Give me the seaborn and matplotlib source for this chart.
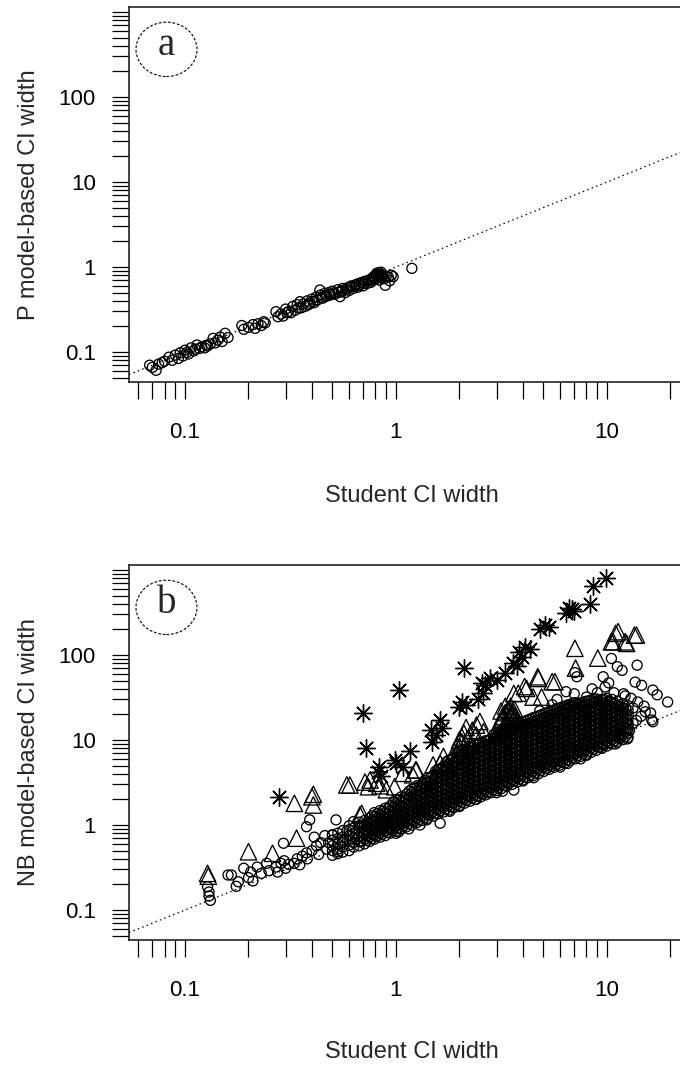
import warnings
import matplotlib
matplotlib.use("Agg")
import matplotlib.pyplot as plt
from matplotlib.patches import Ellipse
from matplotlib.ticker import NullLocator
import seaborn as sns

warnings.filterwarnings("ignore")

# ---- panel a: P model-based vs Student CI width
a_student = [0.068, 0.070, 0.073, 0.075, 0.078, 0.080, 0.084, 0.087, 0.090, 0.093, 0.095, 0.098,
             0.100, 0.102, 0.104, 0.107, 0.110, 0.112, 0.114, 0.117, 0.120, 0.124, 0.126, 0.128,
             0.132, 0.136, 0.139, 0.143, 0.147, 0.150, 0.155, 0.160, 0.186, 0.190, 0.200, 0.210,
             0.215, 0.222, 0.230, 0.236, 0.240, 0.270, 0.276, 0.285, 0.292, 0.300, 0.305, 0.310,
             0.318, 0.325, 0.333, 0.340, 0.345, 0.351, 0.355, 0.365, 0.372, 0.380, 0.385, 0.390,
             0.400, 0.405, 0.410, 0.420, 0.425, 0.436, 0.440, 0.445, 0.450, 0.460, 0.465, 0.470,
             0.480, 0.485, 0.490, 0.500, 0.505, 0.515, 0.530, 0.535, 0.543, 0.550, 0.555, 0.560,
             0.575, 0.580, 0.590, 0.600, 0.605, 0.615, 0.630, 0.640, 0.645, 0.660, 0.665, 0.675,
             0.690, 0.700, 0.705, 0.715, 0.730, 0.740, 0.745, 0.760, 0.765, 0.770, 0.780, 0.785,
             0.790, 0.800, 0.805, 0.810, 0.815, 0.820, 0.825, 0.830, 0.835, 0.840, 0.845, 0.850,
             0.855, 0.860, 0.865, 0.880, 0.890, 0.900, 0.920, 0.935, 0.950, 0.970, 1.190]
a_model = [0.070, 0.066, 0.061, 0.072, 0.075, 0.078, 0.087, 0.080, 0.092, 0.084, 0.098, 0.090,
           0.105, 0.099, 0.095, 0.112, 0.103, 0.108, 0.121, 0.110, 0.115, 0.112, 0.120, 0.118,
           0.125, 0.145, 0.128, 0.138, 0.150, 0.133, 0.166, 0.148, 0.205, 0.185, 0.195, 0.210,
           0.190, 0.215, 0.205, 0.227, 0.220, 0.298, 0.260, 0.280, 0.265, 0.320, 0.290, 0.300,
           0.290, 0.345, 0.310, 0.360, 0.330, 0.391, 0.330, 0.370, 0.345, 0.400, 0.360, 0.375,
           0.420, 0.395, 0.380, 0.445, 0.410, 0.536, 0.470, 0.440, 0.430, 0.490, 0.465, 0.455,
           0.500, 0.475, 0.470, 0.520, 0.495, 0.480, 0.540, 0.505, 0.448, 0.510, 0.530, 0.560,
           0.500, 0.545, 0.570, 0.530, 0.580, 0.600, 0.560, 0.600, 0.620, 0.580, 0.640, 0.614,
           0.660, 0.600, 0.640, 0.680, 0.640, 0.690, 0.700, 0.660, 0.720, 0.740, 0.700, 0.760,
           0.780, 0.720, 0.800, 0.843, 0.760, 0.820, 0.800, 0.860, 0.700, 0.780, 0.820, 0.870,
           0.750, 0.800, 0.790, 0.730, 0.610, 0.780, 0.760, 0.690, 0.800, 0.770, 0.965]

# ---- panel b: NB model-based vs Student CI width
# dense band of circles, one column of y readings per Student CI width
b_band_x = [0.50, 0.53, 0.56, 0.60, 0.63, 0.67, 0.71, 0.75, 0.79, 0.84, 0.89, 0.94, 1.00, 1.06,
            1.12, 1.19, 1.26, 1.33, 1.41, 1.50, 1.58, 1.68, 1.78, 1.88, 2.00, 2.11, 2.24, 2.37,
            2.51, 2.66, 2.82, 2.99, 3.16, 3.35, 3.55, 3.76, 3.98, 4.22, 4.47, 4.73, 5.01, 5.31,
            5.62, 5.96, 6.31, 6.68, 7.08, 7.50, 7.94, 8.41, 8.91, 9.44, 10.0, 10.6, 11.2, 11.9,
            12.6]
b_band_y = [
    [0.44, 0.50, 0.57, 0.66, 0.76],
    [0.46, 0.52, 0.60, 0.69, 0.80],
    [0.48, 0.55, 0.62, 0.72, 0.86],
    [0.50, 0.58, 0.66, 0.75, 0.88, 0.98],
    [0.55, 0.62, 0.70, 0.80, 0.92],
    [0.57, 0.64, 0.73, 0.84, 0.95, 1.08],
    [0.60, 0.68, 0.78, 0.88, 1.00, 1.13],
    [0.64, 0.72, 0.82, 0.93, 1.05, 1.20],
    [0.68, 0.76, 0.86, 0.98, 1.10, 1.25, 1.40],
    [0.72, 0.80, 0.91, 1.03, 1.17, 1.32, 1.48],
    [0.75, 0.85, 0.96, 1.09, 1.23, 1.40, 1.58],
    [0.80, 0.90, 1.02, 1.15, 1.30, 1.48, 1.68],
    [0.85, 0.96, 1.08, 1.22, 1.38, 1.56, 1.78, 2.00],
    [0.90, 1.02, 1.15, 1.30, 1.47, 1.66, 1.90, 2.15],
    [0.95, 1.08, 1.22, 1.38, 1.56, 1.77, 2.00, 2.30],
    [1.00, 1.14, 1.29, 1.46, 1.65, 1.87, 2.12, 2.40, 2.65],
    [1.07, 1.21, 1.37, 1.55, 1.75, 1.98, 2.25, 2.55, 2.90],
    [1.13, 1.28, 1.45, 1.64, 1.85, 2.10, 2.38, 2.70, 3.05],
    [1.20, 1.36, 1.54, 1.74, 1.97, 2.23, 2.52, 2.85, 3.20, 3.60],
    [1.27, 1.44, 1.63, 1.84, 2.08, 2.36, 2.67, 3.00, 3.40, 3.85],
    [1.35, 1.52, 1.72, 1.95, 2.20, 2.50, 2.83, 3.20, 3.60, 4.10, 4.50],
    [1.42, 1.61, 1.82, 2.06, 2.33, 2.64, 3.00, 3.38, 3.82, 4.30, 4.90],
    [1.50, 1.70, 1.93, 2.18, 2.47, 2.80, 3.17, 3.58, 4.05, 4.60, 5.20, 5.80],
    [1.60, 1.81, 2.05, 2.32, 2.62, 2.96, 3.35, 3.80, 4.30, 4.85, 5.50, 6.20],
    [1.70, 1.92, 2.17, 2.46, 2.78, 3.15, 3.55, 4.00, 4.55, 5.15, 5.80, 6.60, 7.40],
    [1.80, 2.03, 2.30, 2.60, 2.94, 3.32, 3.76, 4.25, 4.80, 5.45, 6.15, 6.95, 7.80],
    [1.90, 2.15, 2.43, 2.75, 3.10, 3.50, 3.97, 4.50, 5.10, 5.75, 6.50, 7.35, 8.30],
    [2.00, 2.27, 2.57, 2.90, 3.28, 3.72, 4.20, 4.75, 5.40, 6.10, 6.90, 7.80, 8.80],
    [2.13, 2.40, 2.72, 3.08, 3.48, 3.93, 4.45, 5.03, 5.70, 6.45, 7.30, 8.25, 9.30],
    [2.26, 2.55, 2.88, 3.26, 3.68, 4.17, 4.71, 5.33, 6.03, 6.82, 7.70, 8.70, 9.80],
    [2.40, 2.70, 3.05, 3.45, 3.90, 4.41, 5.00, 5.65, 6.38, 7.20, 8.15, 9.20, 10.4],
    [2.54, 2.87, 3.24, 3.66, 4.14, 4.68, 5.30, 6.00, 6.78, 7.65, 8.65, 9.80, 11.0, 12.2],
    [2.68, 3.03, 3.43, 3.87, 4.38, 4.95, 5.60, 6.33, 7.15, 8.10, 9.15, 10.3, 11.6, 12.8],
    [2.85, 3.22, 3.64, 4.11, 4.65, 5.25, 5.94, 6.70, 7.60, 8.60, 9.70, 10.9, 12.3, 13.6],
    [3.00, 3.40, 3.85, 4.35, 4.92, 5.56, 6.28, 7.10, 8.03, 9.08, 10.25, 11.6, 13.1, 14.5],
    [3.20, 3.62, 4.09, 4.62, 5.22, 5.90, 6.67, 7.54, 8.52, 9.63, 10.9, 12.3, 13.9, 15.3],
    [3.38, 3.82, 4.32, 4.88, 5.52, 6.24, 7.05, 7.97, 9.00, 10.2, 11.5, 13.0, 14.7, 16.2],
    [3.60, 4.06, 4.59, 5.19, 5.86, 6.63, 7.49, 8.46, 9.56, 10.8, 12.2, 13.8, 15.6, 17.2],
    [3.80, 4.30, 4.86, 5.49, 6.20, 7.01, 7.92, 8.95, 10.1, 11.4, 12.9, 14.6, 16.5, 18.3],
    [4.00, 4.53, 5.12, 5.78, 6.54, 7.39, 8.35, 9.43, 10.7, 12.1, 13.6, 15.4, 17.4, 19.2],
    [4.26, 4.81, 5.44, 6.15, 6.95, 7.85, 8.87, 10.0, 11.3, 12.8, 14.5, 16.4, 18.5, 20.3],
    [4.50, 5.10, 5.76, 6.51, 7.36, 8.31, 9.40, 10.6, 12.0, 13.6, 15.3, 17.3, 19.6, 21.5],
    [4.78, 5.40, 6.10, 6.90, 7.80, 8.80, 9.95, 11.2, 12.7, 14.4, 16.2, 18.3, 20.7, 22.6],
    [5.06, 5.72, 6.46, 7.30, 8.25, 9.33, 10.5, 11.9, 13.4, 15.2, 17.2, 19.4, 21.9, 23.8],
    [5.36, 6.06, 6.85, 7.74, 8.74, 9.88, 11.2, 12.6, 14.3, 16.1, 18.2, 20.6, 23.2, 25.0],
    [5.68, 6.42, 7.25, 8.20, 9.26, 10.5, 11.8, 13.4, 15.1, 17.1, 19.3, 21.8, 24.6, 26.2],
    [6.00, 6.80, 7.70, 8.70, 9.80, 11.1, 12.5, 14.2, 16.0, 18.1, 20.4, 23.1, 26.0, 27.5],
    [6.40, 7.20, 8.15, 9.20, 10.4, 11.8, 13.3, 15.0, 17.0, 19.2, 21.7, 24.5, 27.3],
    [6.75, 7.63, 8.62, 9.74, 11.0, 12.4, 14.1, 15.9, 18.0, 20.3, 22.9, 25.9, 28.5],
    [7.15, 8.08, 9.13, 10.3, 11.7, 13.2, 14.9, 16.8, 19.0, 21.5, 24.3, 27.0, 29.5],
    [7.57, 8.56, 9.67, 10.9, 12.3, 13.9, 15.8, 17.8, 20.1, 22.7, 25.7, 28.5, 30.5],
    [8.00, 9.05, 10.2, 11.6, 13.1, 14.8, 16.7, 18.9, 21.3, 24.1, 27.0, 30.0],
    [8.50, 9.60, 10.85, 12.3, 13.9, 15.7, 17.7, 20.0, 22.6, 25.5, 28.5, 31.0],
    [9.00, 10.2, 11.5, 13.0, 14.7, 16.6, 18.8, 21.2, 24.0, 27.0, 30.0],
    [9.50, 10.8, 12.2, 13.8, 15.6, 17.6, 19.9, 22.5, 25.4, 28.5],
    [10.1, 11.4, 12.9, 14.6, 16.5, 18.6, 21.0, 23.8, 26.8],
    [10.7, 12.1, 13.7, 15.5, 17.5, 19.8, 22.4, 25.3],
]

# second pass of band readings, taken between the columns above
b_fill_x = [0.73, 0.77, 0.815, 0.865, 0.915, 0.97, 1.03, 1.09, 1.155, 1.225, 1.295, 1.37,
            1.455, 1.54, 1.63, 1.73, 1.83, 1.94, 2.055, 2.175, 2.305, 2.44, 2.585, 2.74, 2.905,
            3.075, 3.255, 3.45, 3.655, 3.87, 4.1, 4.345, 4.6, 4.87, 5.16, 5.465, 5.79, 6.135,
            6.495, 6.88, 7.29, 7.72, 8.175, 8.66, 9.175, 9.72, 10.3, 10.9, 11.55, 12.25]
b_fill_y = [
    [0.66, 0.74, 0.84, 0.95, 1.08],
    [0.69, 0.78, 0.88, 0.99, 1.13, 1.28],
    [0.74, 0.83, 0.94, 1.06, 1.20, 1.36],
    [0.78, 0.88, 1.00, 1.13, 1.28, 1.45],
    [0.82, 0.93, 1.05, 1.19, 1.35, 1.55],
    [0.87, 0.99, 1.12, 1.26, 1.43, 1.64, 1.85],
    [0.92, 1.04, 1.18, 1.34, 1.52, 1.74, 1.98],
    [0.98, 1.10, 1.25, 1.42, 1.61, 1.84, 2.10],
    [1.04, 1.17, 1.33, 1.50, 1.70, 1.94, 2.22, 2.50],
    [1.10, 1.24, 1.41, 1.60, 1.81, 2.06, 2.35, 2.70],
    [1.16, 1.32, 1.49, 1.69, 1.92, 2.18, 2.50, 2.85],
    [1.23, 1.40, 1.58, 1.80, 2.04, 2.32, 2.66, 3.00, 3.35],
    [1.31, 1.48, 1.68, 1.91, 2.17, 2.47, 2.82, 3.20, 3.60],
    [1.38, 1.57, 1.78, 2.02, 2.30, 2.62, 2.98, 3.40, 3.85, 4.30],
    [1.47, 1.66, 1.89, 2.14, 2.44, 2.78, 3.17, 3.60, 4.05, 4.60],
    [1.55, 1.76, 2.00, 2.27, 2.58, 2.94, 3.35, 3.82, 4.32, 4.90, 5.50],
    [1.65, 1.87, 2.12, 2.40, 2.73, 3.10, 3.55, 4.02, 4.55, 5.15, 5.85],
    [1.75, 1.98, 2.24, 2.55, 2.90, 3.30, 3.75, 4.25, 4.82, 5.45, 6.20, 7.00],
    [1.85, 2.10, 2.38, 2.70, 3.07, 3.50, 3.97, 4.50, 5.10, 5.80, 6.55, 7.40],
    [1.96, 2.22, 2.52, 2.86, 3.25, 3.70, 4.20, 4.77, 5.40, 6.10, 6.90, 7.85],
    [2.07, 2.35, 2.67, 3.03, 3.45, 3.92, 4.45, 5.05, 5.72, 6.48, 7.35, 8.30],
    [2.20, 2.50, 2.83, 3.22, 3.66, 4.15, 4.72, 5.35, 6.06, 6.86, 7.78, 8.80],
    [2.33, 2.64, 3.00, 3.40, 3.86, 4.39, 4.98, 5.66, 6.42, 7.28, 8.25, 9.35],
    [2.47, 2.80, 3.18, 3.60, 4.10, 4.65, 5.28, 6.00, 6.80, 7.70, 8.75, 9.90],
    [2.62, 2.97, 3.37, 3.82, 4.34, 4.93, 5.60, 6.36, 7.20, 8.17, 9.25, 10.5, 11.6],
    [2.77, 3.14, 3.56, 4.04, 4.59, 5.22, 5.93, 6.73, 7.63, 8.65, 9.80, 11.1, 12.4],
    [2.93, 3.33, 3.78, 4.29, 4.87, 5.53, 6.28, 7.13, 8.08, 9.16, 10.4, 11.8, 13.1],
    [3.10, 3.52, 4.00, 4.54, 5.16, 5.86, 6.65, 7.55, 8.56, 9.70, 11.0, 12.5, 13.9],
    [3.30, 3.74, 4.24, 4.81, 5.46, 6.20, 7.04, 8.00, 9.07, 10.3, 11.7, 13.2, 14.8],
    [3.48, 3.95, 4.48, 5.09, 5.78, 6.57, 7.46, 8.47, 9.60, 10.9, 12.4, 14.0, 15.7],
    [3.70, 4.20, 4.76, 5.40, 6.13, 6.96, 7.90, 8.97, 10.2, 11.6, 13.1, 14.9, 16.7],
    [3.90, 4.43, 5.03, 5.71, 6.48, 7.36, 8.36, 9.50, 10.8, 12.2, 13.9, 15.7, 17.7],
    [4.14, 4.70, 5.33, 6.05, 6.87, 7.80, 8.86, 10.1, 11.4, 13.0, 14.7, 16.7, 18.7],
    [4.38, 4.97, 5.64, 6.40, 7.27, 8.26, 9.38, 10.6, 12.1, 13.7, 15.6, 17.7, 19.7],
    [4.64, 5.27, 5.98, 6.79, 7.70, 8.75, 9.93, 11.3, 12.8, 14.5, 16.5, 18.7, 20.9],
    [4.92, 5.58, 6.34, 7.20, 8.17, 9.27, 10.5, 11.9, 13.5, 15.4, 17.5, 19.8, 22.0],
    [5.20, 5.90, 6.70, 7.62, 8.65, 9.82, 11.1, 12.6, 14.3, 16.3, 18.5, 21.0, 23.2],
    [5.52, 6.27, 7.12, 8.08, 9.17, 10.4, 11.8, 13.4, 15.2, 17.3, 19.6, 22.3, 24.4],
    [5.85, 6.64, 7.54, 8.56, 9.72, 11.0, 12.5, 14.2, 16.1, 18.3, 20.8, 23.6, 25.8],
    [6.20, 7.03, 7.98, 9.06, 10.3, 11.7, 13.3, 15.1, 17.1, 19.4, 22.0, 25.0, 27.0],
    [6.56, 7.45, 8.46, 9.60, 10.9, 12.4, 14.1, 16.0, 18.1, 20.6, 23.3, 26.4],
    [6.95, 7.89, 8.96, 10.2, 11.6, 13.1, 14.9, 16.9, 19.2, 21.8, 24.7, 27.8],
    [7.36, 8.36, 9.49, 10.8, 12.2, 13.9, 15.8, 17.9, 20.3, 23.0, 26.1, 28.9],
    [7.80, 8.85, 10.0, 11.4, 12.9, 14.7, 16.7, 18.9, 21.5, 24.4, 27.6, 30.0],
    [8.26, 9.38, 10.6, 12.1, 13.7, 15.6, 17.7, 20.0, 22.7, 25.8, 28.8],
    [8.75, 9.93, 11.3, 12.8, 14.5, 16.5, 18.7, 21.2, 24.1, 27.2, 30.0],
    [9.27, 10.5, 11.9, 13.5, 15.4, 17.5, 19.8, 22.5, 25.5, 28.5],
    [9.80, 11.1, 12.6, 14.3, 16.3, 18.5, 21.0, 23.8, 26.8],
    [10.4, 11.8, 13.4, 15.2, 17.2, 19.5, 22.2, 25.0],
    [11.0, 12.5, 14.2, 16.1, 18.3, 20.7, 23.5],
]

# scattered circles outside the band
b_circ_x = [0.128, 0.130, 0.130, 0.132, 0.160, 0.166, 0.175, 0.179, 0.190, 0.200, 0.205, 0.210,
            0.220, 0.230, 0.244, 0.250, 0.270, 0.275, 0.285, 0.295, 0.300, 0.293, 0.310, 0.330,
            0.340, 0.350, 0.360, 0.377, 0.390, 0.410, 0.377, 0.380, 0.400, 0.420, 0.430, 0.440,
            0.460, 0.470, 0.480, 0.500, 0.520, 0.530, 0.560, 0.585, 0.630, 0.650, 0.680, 0.680,
            0.720, 0.740, 0.790, 0.840, 0.900, 0.950, 1.030, 1.000, 1.620, 1.400, 2.000, 2.700,
            3.620, 3.200, 4.500, 5.200, 6.500, 7.500, 9.450, 9.300, 10.50, 11.20, 13.90, 9.600,
            7.200, 7.050, 14.60, 16.50, 17.30, 19.40, 16.10, 16.50, 13.30, 15.20, 16.30, 13.30,
            6.400, 8.000, 7.000, 8.500, 9.000, 12.00, 13.00, 14.00, 15.00, 14.50, 13.80, 12.80,
            11.50, 12.20, 10.80, 9.800, 5.500, 4.800, 5.800, 3.800, 11.80, 13.60, 10.20, 1.150,
            1.300, 1.800, 2.400, 3.000, 4.000, 6.000, 8.000, 11.00, 12.50]
b_circ_y = [0.188, 0.163, 0.146, 0.130, 0.258, 0.258, 0.190, 0.215, 0.310, 0.240, 0.280, 0.220,
            0.320, 0.270, 0.354, 0.290, 0.320, 0.280, 0.354, 0.380, 0.310, 0.610, 0.345, 0.354,
            0.400, 0.340, 0.430, 0.955, 1.150, 0.720, 0.470, 0.400, 0.500, 0.570, 0.450, 0.620,
            0.750, 0.520, 0.620, 0.770, 1.150, 0.485, 0.660, 0.850, 1.100, 0.690, 1.000, 0.636,
            0.850, 0.800, 1.100, 0.950, 1.200, 1.100, 0.830, 0.800, 1.050, 1.150, 1.650, 2.400,
            2.580, 2.500, 3.600, 4.650, 5.300, 6.000, 8.000, 8.300, 91.00, 73.00, 76.00, 55.50,
            55.50, 62.00, 44.00, 38.70, 34.00, 28.00, 20.80, 16.40, 23.80, 21.50, 17.20, 15.70,
            37.00, 32.00, 35.00, 40.00, 36.00, 35.00, 31.00, 28.00, 25.00, 19.00, 17.00, 13.00,
            11.00, 33.00, 36.00, 42.00, 26.00, 22.00, 30.00, 16.50, 66.00, 48.00, 47.00, 0.900,
            1.000, 1.450, 2.000, 2.400, 3.300, 4.800, 6.600, 9.000, 10.30]

b_tri_x = [0.128, 0.129, 0.200, 0.260, 0.338, 0.330, 0.400, 0.406, 0.406, 0.585, 0.605, 0.675,
           0.688, 0.713, 0.740, 0.753, 0.810, 0.840, 0.900, 0.985, 1.080, 1.200, 1.240, 1.250,
           1.340, 1.500, 1.620, 1.680, 1.750, 1.920, 1.950, 2.000, 2.010, 2.050, 2.050, 2.100,
           2.150, 2.200, 2.250, 2.300, 2.400, 2.410, 2.500, 2.600, 3.100, 3.130, 3.150, 3.200,
           3.200, 3.220, 3.250, 3.300, 3.300, 3.350, 3.400, 3.400, 3.450, 3.470, 3.500, 3.550,
           3.550, 3.600, 3.620, 3.650, 3.700, 3.800, 4.070, 4.160, 4.470, 4.700, 4.730, 4.900,
           5.500, 5.670, 7.050, 7.100, 9.050, 10.50, 10.70, 11.00, 11.30, 12.20, 12.40, 13.50,
           13.80]
b_tri_y = [0.270, 0.250, 0.485, 0.465, 0.700, 1.800, 2.150, 2.300, 1.720, 2.960, 2.950, 1.310,
           1.370, 3.200, 2.820, 3.380, 3.100, 2.900, 2.600, 2.820, 4.060, 3.900, 4.450, 4.440,
           3.100, 5.100, 5.300, 6.400, 5.000, 5.600, 8.400, 10.00, 8.300, 10.90, 9.500, 12.00,
           14.00, 10.50, 8.500, 13.00, 11.50, 15.00, 16.50, 12.50, 16.00, 12.00, 22.00, 17.70,
           19.00, 18.80, 14.50, 21.00, 25.00, 17.00, 23.00, 15.50, 19.50, 22.50, 25.00, 18.80,
           21.50, 17.50, 35.30, 23.00, 19.00, 35.50, 42.50, 40.50, 32.00, 55.50, 53.00, 32.00,
           48.50, 48.50, 120.0, 70.00, 92.00, 143.0, 143.0, 180.0, 188.0, 143.0, 137.0, 171.0,
           172.0]

b_star_x = [9.90, 8.60, 8.30, 6.60, 6.80, 6.40, 6.95, 5.10, 4.80, 5.30, 4.10, 4.30, 3.85, 3.60,
            3.75, 3.95, 3.30, 2.80, 3.00, 2.55, 2.65, 2.10, 2.05, 2.45, 2.15, 2.00, 2.60, 1.03,
            0.70, 0.72, 1.16, 0.99, 1.00, 0.83, 0.82, 0.85, 1.08, 1.48, 1.47, 1.65, 1.62, 1.55,
            0.28]
b_star_y = [800, 650, 395, 355, 345, 310, 330, 225, 205, 215, 125, 118, 108, 80, 74, 95, 62,
            53, 51, 47, 44, 70, 28, 30, 26, 24.5, 36, 39, 20.7, 8.0, 7.5, 5.8, 5.4, 4.8, 4.2,
            3.8, 4.8, 9.5, 13, 13.8, 17.2, 11.5, 2.15]

x_ticks = [0.06, 0.07, 0.08, 0.09, 0.1, 0.2, 0.3, 0.4, 0.5, 0.6, 0.7, 0.8, 0.9,
           1, 2, 3, 4, 5, 6, 7, 8, 9, 10, 20]
y_ticks = [0.05, 0.06, 0.07, 0.08, 0.09, 0.1, 0.2, 0.3, 0.4, 0.5, 0.6, 0.7, 0.8, 0.9,
           1, 2, 3, 4, 5, 6, 7, 8, 9, 10, 20, 30, 40, 50, 60, 70, 80, 90,
           100, 200, 300, 400, 500, 600, 700, 800, 900, 1000]
x_labelled = {0.1: "0.1", 1: "1", 10: "10"}
y_labelled = {0.1: "0.1", 1: "1", 10: "10", 100: "100"}

sns.set_style("ticks")
plt.rcParams["font.family"] = ["Liberation Sans", "DejaVu Sans"]

W, H = 680, 1065
fig = plt.figure(figsize=(W / 100, H / 100), dpi=100)

# expand band columns into flat point lists
band_x, band_y = [], []
for cols_x, cols_y in [(b_band_x, b_band_y), (b_fill_x, b_fill_y)]:
    for bx, ys in zip(cols_x, cols_y):
        band_x.extend([bx] * len(ys))
        band_y.extend(ys)


def style_axes(ax):
    ax.set_xscale("log")
    ax.set_yscale("log")
    ax.set_xlim(0.0543, 30)
    ax.set_ylim(0.0444, 1145)
    ax.set_xticks(x_ticks, [x_labelled.get(t, "") for t in x_ticks])
    ax.set_yticks(y_ticks, [y_labelled.get(t, "") for t in y_ticks])
    ax.xaxis.set_minor_locator(NullLocator())
    ax.yaxis.set_minor_locator(NullLocator())
    ax.tick_params(axis="both", direction="out", length=12, width=0.9,
                   color="black", labelsize=16, labelcolor="black")
    ax.tick_params(axis="x", pad=17)
    ax.tick_params(axis="y", pad=12)
    for side in ["left", "bottom", "top", "right"]:
        ax.spines[side].set_visible(True)
        ax.spines[side].set_linewidth(1.2)
        ax.spines[side].set_color("#222222")
    ax.set_xlabel("")
    ax.set_ylabel("")
    # 1:1 reference line
    ax.axline((1, 1), (10, 10), color="black", lw=0.9, linestyle=(0, (1.2, 2.6)), zorder=1)


def panel_tag(ax, letter):
    ax.add_patch(Ellipse((0.0648, 0.887), 0.1054, 0.145, transform=ax.transAxes,
                         fill=False, edgecolor="black", lw=0.8, linestyle=(0, (2.5, 1.6))))
    ax.text(0.0648, 0.872, letter, transform=ax.transAxes, ha="center", va="baseline",
            fontsize=28, family="Liberation Serif")


left = 129 / W
width = (707.6 - 129) / W
height = 375 / H

ax_a = fig.add_axes([left, 1 - 382 / H, width, height])
ax_b = fig.add_axes([left, 1 - 940 / H, width, height])

circle_kw = dict(marker="o", s=52, facecolors="none", edgecolor="black", linewidth=0.95)

sns.scatterplot(x=a_student, y=a_model, ax=ax_a, zorder=3, **circle_kw)

sns.scatterplot(x=band_x, y=band_y, ax=ax_b, zorder=3, **circle_kw)
sns.scatterplot(x=b_circ_x, y=b_circ_y, ax=ax_b, zorder=3, **circle_kw)
sns.scatterplot(x=b_tri_x, y=b_tri_y, ax=ax_b, zorder=3, marker="^", s=140,
                facecolors="none", edgecolor="black", linewidth=0.95)
sns.scatterplot(x=b_star_x, y=b_star_y, ax=ax_b, zorder=3, marker=(8, 2, 0), s=160,
                color="black", linewidth=1.0)

for ax, letter in [(ax_a, "a"), (ax_b, "b")]:
    style_axes(ax)
    panel_tag(ax, letter)

# axis titles
fig.text(411.6 / W, 1 - 502 / H, "Student CI width", ha="center", va="baseline", fontsize=17)
fig.text(411.6 / W, 1 - 1058 / H, "Student CI width", ha="center", va="baseline", fontsize=17)
fig.text(35 / W, 1 - 194.5 / H, "P model-based CI width", rotation=90, rotation_mode="anchor",
         ha="center", va="baseline", fontsize=17)
fig.text(35 / W, 1 - 752.5 / H, "NB model-based CI width", rotation=90, rotation_mode="anchor",
         ha="center", va="baseline", fontsize=17)

fig.savefig("out.png", dpi=100)
